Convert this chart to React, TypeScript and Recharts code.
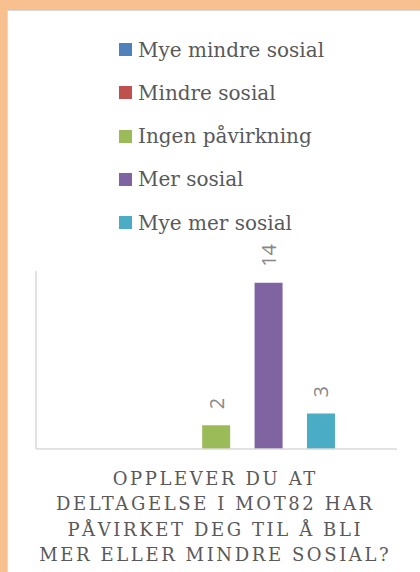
import { BarChart, Bar, XAxis, YAxis, Legend, LabelList } from 'recharts';

const categories = ['Svar'];
const seriesNames = ['Mye mindre sosial', 'Mindre sosial', 'Ingen påvirkning', 'Mer sosial', 'Mye mer sosial'];
const seriesValues = [0, 0, 2, 14, 3];
const seriesColors = ['#4F81BD', '#C0504D', '#9BBB59', '#8064A2', '#4BACC6'];
const titleLines = ['OPPLEVER DU AT', 'DELTAGELSE I MOT82 HAR', 'PÅVIRKET DEG TIL Å BLI', 'MER ELLER MINDRE SOSIAL?'];

const data = categories.map(c => {
  const row: Record<string, string | number> = { name: c };
  seriesNames.forEach((s, i) => {
    row[s] = seriesValues[i];
  });
  return row;
});

const serif = '"DejaVu Serif", serif';

function renderLegend(props: any) {
  const items = [...(props.payload || [])].sort(
    (a: any, b: any) => seriesNames.indexOf(a.value) - seriesNames.indexOf(b.value)
  );
  return (
    <div style={{ fontFamily: serif, fontSize: 20, color: '#595959' }}>
      {items.map((it: any) => (
        <div key={it.value} style={{ display: 'flex', alignItems: 'center', height: 43.25 }}>
          <span style={{ width: 13, height: 13, background: it.color, display: 'inline-block', marginRight: 6 }} />
          <span>{it.value}</span>
        </div>
      ))}
    </div>
  );
}

function ValueLabel(props: any) {
  const { x, y, width, value } = props;
  if (!value) return null;
  const cx = Number(x) + Number(width) / 2;
  const cy = Number(y) - 16;
  return (
    <g transform={`translate(${cx} ${cy}) rotate(-90)`}>
      <text
        x={0}
        y={0}
        textAnchor="start"
        dominantBaseline="central"
        fill="#888888"
        fontSize={20}
        fontFamily='"Open Sans", sans-serif'
      >
        {value}
      </text>
    </g>
  );
}

export default function App() {
  return (
    <div style={{ position: 'absolute', left: 0, top: 0, width: 420, height: 572, background: '#F9C08F', overflow: 'hidden' }}>
      <div
        style={{
          position: 'absolute',
          left: 7,
          top: 10,
          width: 413,
          height: 562,
          background: '#fff',
          borderLeft: '1px solid #d9d9d9',
          borderTop: '1px solid #d9d9d9',
        }}
      />
      <div style={{ position: 'absolute', left: 0, top: 0 }}>
        <BarChart
          width={420}
          height={460}
          data={data}
          margin={{ top: 271, right: 23, left: 35, bottom: 10 }}
          barCategoryGap="17%"
          barGap={24.4}
        >
          <XAxis dataKey="name" height={1} tick={false} tickLine={false} axisLine={{ stroke: '#d9d9d9', strokeWidth: 1.5 }} />
          <YAxis width={1} domain={[0, 15]} tick={false} tickLine={false} axisLine={{ stroke: '#d9d9d9', strokeWidth: 1.5 }} />
          <Legend
            layout="vertical"
            verticalAlign="middle"
            align="center"
            content={renderLegend}
            wrapperStyle={{ left: 119, top: 28, width: 260 }}
          />
          {seriesNames.map((s, i) => (
            <Bar key={s} dataKey={s} name={s} fill={seriesColors[i]} isAnimationActive={false}>
              <LabelList dataKey={s} content={ValueLabel} />
            </Bar>
          ))}
        </BarChart>
      </div>
      <div
        style={{
          position: 'absolute',
          left: 8,
          top: 466,
          width: 412,
          textAlign: 'center',
          fontFamily: serif,
          fontSize: 18,
          lineHeight: '25.3px',
          letterSpacing: 2.6,
          paddingLeft: 2.6,
          boxSizing: 'border-box',
          color: '#595959',
        }}
      >
        {titleLines.map(l => (
          <div key={l}>{l}</div>
        ))}
      </div>
    </div>
  );
}
